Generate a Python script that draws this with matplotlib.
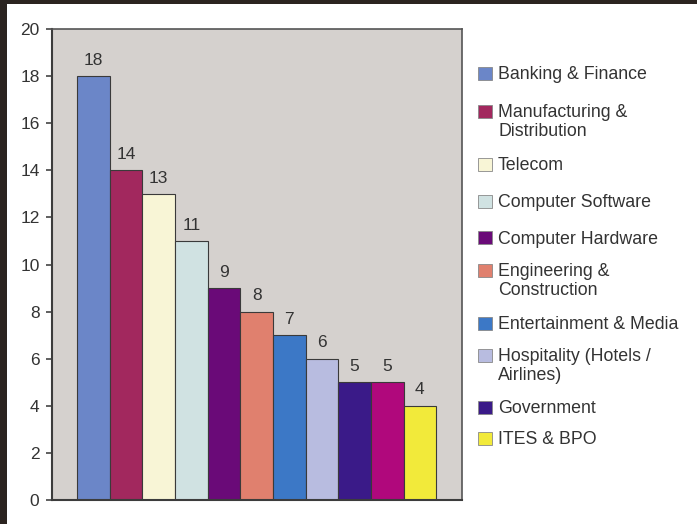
import matplotlib.pyplot as plt
from matplotlib.patches import Rectangle

# Data
sectors = ["Banking & Finance", "Manufacturing &\nDistribution", "Telecom",
           "Computer Software", "Computer Hardware", "Engineering &\nConstruction",
           "Entertainment & Media", "Hospitality (Hotels /\nAirlines)", "Government",
           "", "ITES & BPO"]
counts = [18, 14, 13, 11, 9, 8, 7, 6, 5, 5, 4]
colors = ["#6b86c8", "#a2285e", "#f8f5d6", "#d0e2e2", "#6a0a78", "#e0806e",
          "#3c78c6", "#b8bce0", "#3a1a88", "#b0087c", "#f2ea3a"]
yticks = [0, 2, 4, 6, 8, 10, 12, 14, 16, 18, 20]

W, H = 697, 524
fig = plt.figure(figsize=(W / 100, H / 100), dpi=100)
fig.patch.set_facecolor("#2b2420")
plt.rcParams['font.family'] = ['Liberation Sans', 'DejaVu Sans']

# white page area
fig.add_artist(Rectangle((7 / W, 0), 1 - 7 / W, 1 - 4 / H, transform=fig.transFigure,
                         facecolor="white", edgecolor="none", zorder=-1))

ax = fig.add_axes([52 / W, 1 - 500 / H, (462 - 52) / W, (500 - 29) / H])
ax.set_facecolor("#d5d1ce")

x = list(range(len(counts)))
ax.bar(x, counts, width=1.0, color=colors, edgecolor="#3a3a3a", linewidth=0.8)
for xi, v in zip(x, counts):
    ax.annotate(str(v), (xi, v), xytext=(0, 6), textcoords="offset points",
                ha="center", va="bottom", fontsize=12.5, color="#333333")

ax.set_xlim(-1.27, len(counts) - 1 + 1.29)
ax.set_ylim(0, 20)
ax.set_yticks(yticks)
ax.set_xticks([])
ax.tick_params(axis="y", direction="out", length=4, width=1.2, color="#444444",
               labelsize=12.5, labelcolor="#333333", pad=5)
for side in ["left", "bottom"]:
    ax.spines[side].set_color("#3c3c3c")
    ax.spines[side].set_linewidth(1.5)
for side in ["top", "right"]:
    ax.spines[side].set_color("#555555")
    ax.spines[side].set_linewidth(1.2)

# legend, drawn by hand (first-line centre y of each entry in pixels)
legend_rows = [73, 111, 164, 201, 238, 270, 323, 355, 407, 438]
line_h = 19
entries = [(s, c) for s, c in zip(sectors, colors) if s]
for (label, col), yp in zip(entries, legend_rows):
    fig.add_artist(Rectangle((478 / W, 1 - (yp + 6.5) / H), 14 / W, 13 / H,
                             transform=fig.transFigure, facecolor=col,
                             edgecolor="#888888", linewidth=0.6))
    for i, line in enumerate(label.split("\n")):
        fig.text(498 / W, 1 - (yp + 6 + i * line_h) / H, line, ha="left",
                 va="baseline", fontsize=12.8, color="#333333")

fig.savefig("out.png", dpi=100, facecolor=fig.get_facecolor())
